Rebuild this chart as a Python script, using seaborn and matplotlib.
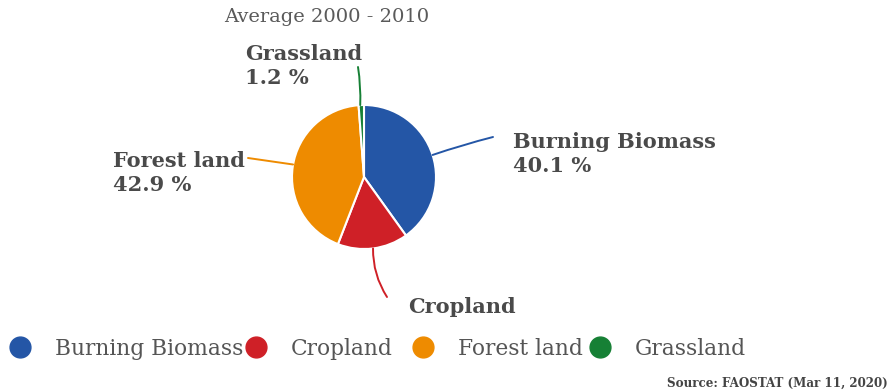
import numpy as np
import matplotlib
matplotlib.use("Agg")
import matplotlib.pyplot as plt
from matplotlib.lines import Line2D
from matplotlib.patches import Rectangle
import seaborn as sns

sns.set_theme(style="white")
plt.rcParams["font.family"] = ["DejaVu Serif", "DejaVu Sans"]

# Emissions share by source, average 2000 - 2010
categories = ["Burning Biomass", "Cropland", "Forest land", "Grassland"]
shares = [40.1, 15.8, 42.9, 1.2]
colors = ["#2456a6", "#cf2027", "#ee8b00", "#168035"]
title = "Average 2000 - 2010"
source = "Source: FAOSTAT (Mar 11, 2020)"

fig = plt.figure(figsize=(8.93, 3.92), dpi=100)
ax = fig.add_axes([0, 0, 1, 1])

cx, cy, r = 364, 215, 72
wedges, _ = ax.pie(shares, colors=colors, startangle=90, counterclock=False,
                   center=(cx, cy), radius=r, frame=True,
                   wedgeprops=dict(edgecolor="white", linewidth=1.5))
ax.set_xlim(0, 893)
ax.set_ylim(0, 392)
ax.set_aspect("equal")
ax.axis("off")

# label placement: (text x, text y, leader end, connection curvature)
label_pos = {
    "Burning Biomass": (513, 238, (493, 255), 0.02),
    "Cropland": (408, 73, (387, 95), -0.15),
    "Forest land": (113, 219, (248, 234), 0.0),
    "Grassland": (245, 326, (358, 325), -0.05),
}
start_override = {"Forest land": 170, "Grassland": 93}

for w, name, val, col in zip(wedges, categories, shares, colors):
    ang = np.deg2rad((w.theta1 + w.theta2) / 2)
    if name in start_override:
        ang = np.deg2rad(start_override[name])
    sx, sy = cx + r * np.cos(ang), cy + r * np.sin(ang)
    tx, ty, (ex, ey), rad = label_pos[name]
    ax.annotate("", xy=(sx, sy), xytext=(ex, ey),
                arrowprops=dict(arrowstyle="-", color=col, lw=1.4,
                                shrinkA=0, shrinkB=0,
                                connectionstyle=f"arc3,rad={rad}"))
    ax.text(tx, ty, f"{name}\n{val} %", ha="left", va="center",
            fontsize=15, fontweight="bold", color="#4a4a4a",
            linespacing=1.25, zorder=3)

ax.text(327, 375, title, ha="center", va="center", fontsize=14,
        color="#5a5a5a")

# legend band sits on top of the lower labels
ax.add_patch(Rectangle((0, 0), 893, 71, facecolor="white",
                       edgecolor="none", zorder=4))

# one legend entry per slice, spaced along the bottom
legend_font = 15.7
em = legend_font * 100 / 72
marker_x = [20, 256, 423, 600]
for i, (name, col, mx) in enumerate(zip(categories, colors, marker_x)):
    h = Line2D([], [], marker="o", linestyle="none", markersize=15,
               markerfacecolor=col, markeredgecolor=col)
    leg = ax.legend([h], [name], loc="center left",
                    bbox_to_anchor=((mx - em / 2) / 893, 43 / 392),
                    bbox_transform=ax.transAxes, frameon=False,
                    handlelength=1.0, handletextpad=1.1,
                    borderaxespad=0.0, borderpad=0.0,
                    prop=dict(family="DejaVu Serif", size=legend_font))
    leg.set_zorder(5)
    for t in leg.get_texts():
        t.set_color("#555555")
    if i < len(categories) - 1:
        ax.add_artist(leg)

ax.text(888, 9, source, ha="right", va="center", fontsize=9.5,
        fontweight="bold", fontstretch="condensed", color="#444444", zorder=6)

fig.savefig("out.png", dpi=100, facecolor="white")
